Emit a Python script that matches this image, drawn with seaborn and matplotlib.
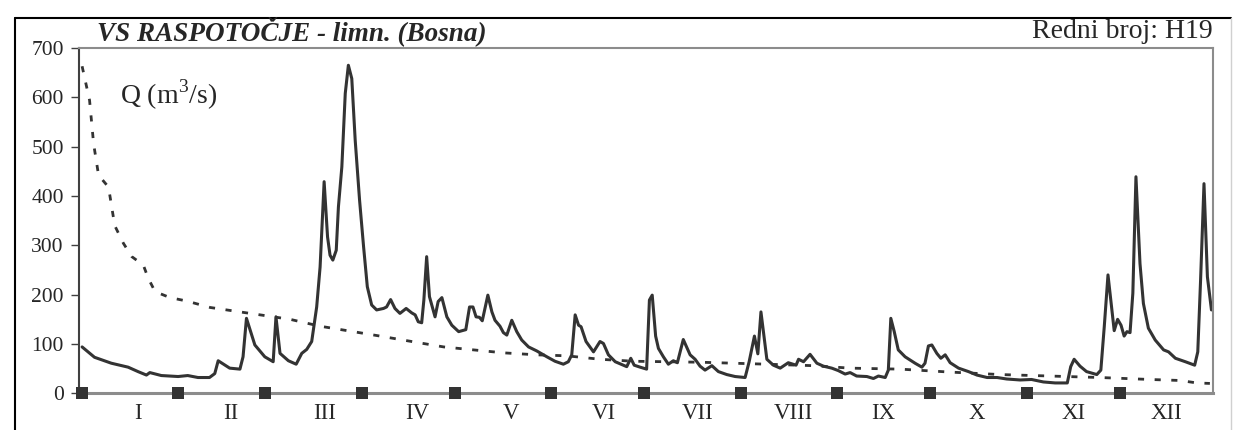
import matplotlib
matplotlib.use("Agg")
import matplotlib.pyplot as plt
from matplotlib.lines import Line2D
import seaborn as sns
import pandas as pd

# daily discharge (day of year from 0, Q in m3/s)
hydro_day = [0, 2.5, 4, 9.4, 14.8, 18, 20.7, 21.8, 25.5, 30.9, 34, 37.3, 41, 42.7, 43.8, 47.5,
             50.8, 51.8, 52.9, 55.6, 58.8, 61.5, 62.4, 63.7, 66.4, 68.9, 70.7, 72.3, 73.9, 75.5,
             76.6, 77.9, 79, 79.8, 80.7, 81.8, 82.5, 83.6, 84.7, 85.7, 86.8, 87.9, 89.3, 90.6,
             91.8, 93.2, 94.8, 97, 98, 99.3, 100.7, 102.3, 104.3, 106.1, 107.2, 108.2, 109.3,
             110, 110.9, 111.8, 113.6, 114.6, 115.8, 117.4, 119, 121.2, 123.5, 124.7, 125.8,
             126.8, 127.9, 128.8, 130.6, 131.9, 132.9, 134.5, 135.6, 136.7, 138.3, 139.9,
             141.5, 143.7, 146.3, 149.6, 152.2, 154.9, 156.5, 157.6, 158.7, 159.8, 160.6,
             162.2, 164.6, 166.7, 167.8, 169.4, 171.6, 175.3, 176.6, 177.7, 179.6, 181.7,
             182.6, 183.5, 184.6, 185.5, 187.1, 188.7, 190.3, 191.6, 193.5, 195.7, 197.3,
             198.9, 200.5, 202.7, 204.8, 207.5, 210.2, 213.4, 214.7, 216.4, 217.5, 218.5,
             220.4, 222.5, 224.7, 227.3, 229.8, 230.6, 232.2, 234.3, 236.5, 238.6, 241.3,
             243.4, 245.6, 247.2, 249.3, 252.6, 254.7, 256.3, 258.5, 259.5, 260.3, 261.4,
             262.7, 264.9, 268.1, 270.3, 271.3, 272.4, 273.5, 275.1, 276.4, 277.8, 279.4,
             282.1, 285.3, 288, 291.3, 294.5, 297.6, 301.9, 305.6, 309.4, 313.2, 317.1,
             318.2, 319.3, 321.2, 323.3, 326.6, 327.9, 329, 330.2, 332.2, 333.3, 334.4,
             335.4, 336.3, 337.3, 338.2, 339.2, 340.5, 341.6, 343.2, 345.4, 348.1, 349.7,
             351.9, 355.1, 358.1, 359.1, 360, 361.1, 362.2, 363.5]
hydro_q = [94, 81, 73, 61, 53, 44, 37, 42, 36, 34, 36, 32, 32, 40, 66, 51,
           49, 74, 152, 98, 74, 64, 155, 81, 66, 59, 81, 89, 105, 175,
           256, 429, 317, 280, 270, 290, 378, 459, 608, 665, 638, 513, 392, 297,
           216, 179, 169, 172, 175, 190, 172, 162, 172, 163, 159, 145, 143,
           189, 277, 196, 155, 186, 194, 155, 138, 125, 129, 175, 175,
           155, 154, 147, 199, 165, 148, 136, 123, 118, 148, 125,
           108, 94, 86, 74, 65, 59, 64, 78, 159, 138, 135,
           105, 84, 105, 101, 78, 64, 54, 71, 57, 53, 49,
           189, 199, 116, 91, 74, 59, 66, 62, 109, 78, 69,
           55, 47, 56, 44, 38, 34, 32, 64, 116, 80, 165,
           69, 57, 51, 62, 57, 69, 64, 79, 61, 55, 51,
           46, 39, 42, 35, 34, 30, 35, 32, 47, 152, 125,
           88, 74, 61, 53, 61, 96, 98, 81, 71, 78, 62,
           51, 44, 37, 32, 32, 29, 27, 28, 23, 21, 21,
           54, 69, 55, 44, 38, 47, 135, 240, 127, 150, 138,
           116, 125, 123, 203, 439, 263, 182, 132, 108, 88, 84,
           71, 64, 57, 84, 229, 425, 236, 169]

# duration curve (dotted)
dur_day = [0, 2.4, 3.7, 5.3, 8.5, 10.5, 13.3, 16, 19.7, 21.3, 23.5, 28.3, 33.7, 41.2, 51.9,
           57.3, 66.9, 76.6, 86.3, 95.9, 107, 116.4, 126, 135.7, 146.3, 156, 166.7, 177.4,
           188.1, 198.9, 209.6, 220.4, 235.4, 247.2, 263.3, 279.4, 295.5, 311.6, 327.7,
           343.8, 353.4, 358.8, 363]
dur_q = [663, 594, 506, 442, 418, 340, 304, 277, 260, 233, 206, 194, 187, 174, 164,
         159, 150, 136, 126, 116, 104, 94, 88, 82, 78, 76, 69, 65,
         64, 63, 61, 59, 56, 51, 49, 43, 38, 35, 32,
         28, 26, 21, 20]

month_start = [0, 31, 59, 90, 120, 151, 181, 212, 243, 273, 304, 334]
month_names = ['I', 'II', 'III', 'IV', 'V', 'VI', 'VII', 'VIII', 'IX', 'X', 'XI', 'XII']
month_label_day = [18, 48, 78, 108, 138, 168, 198, 229, 258, 288, 319, 349]

sns.set_style('white')
plt.rcParams['font.family'] = ['Liberation Serif', 'DejaVu Serif']

W, H = 1234, 430
fig = plt.figure(figsize=(W / 100, H / 100), dpi=100)
ax = fig.add_axes([79 / W, 1 - 393.3 / H, (1213 - 79) / W, (393.3 - 48) / H])

hydro = pd.DataFrame({'dan': hydro_day, 'Q': hydro_q})
dur = pd.DataFrame({'dan': dur_day, 'Q': dur_q})
marks = pd.DataFrame({'dan': month_start, 'Q': [0] * len(month_start)})

line_col = '#333333'
sns.lineplot(data=dur, x='dan', y='Q', color=line_col, lw=2, linestyle=(0, (2.2, 3.8)), ax=ax)
sns.lineplot(data=hydro, x='dan', y='Q', color=line_col, lw=2.2, ax=ax)
sns.scatterplot(data=marks, x='dan', y='Q', marker='s', s=75, color=line_col,
                edgecolor='none', clip_on=False, zorder=6, ax=ax)

ax.set_xlim(-1, 364)
ax.set_ylim(0, 700)
ax.set_xlabel('')
ax.set_ylabel('')

ax.set_yticks(range(0, 701, 100))
ax.tick_params(axis='y', direction='out', length=6, width=1, color='#404040',
               labelsize=15.5, pad=5, left=True)
ax.set_xticks(month_start)
ax.set_xticklabels([])
ax.set_xticks(month_label_day, minor=True)
ax.set_xticklabels(month_names, minor=True)
ax.tick_params(axis='x', which='both', length=0, labelsize=16.5, pad=7)

for side in ['top', 'right']:
    ax.spines[side].set_color('#8c8c8c')
    ax.spines[side].set_linewidth(1.5)
ax.spines['bottom'].set_color('#8c8c8c')
ax.spines['bottom'].set_linewidth(2.2)
ax.spines['left'].set_color('#404040')
ax.spines['left'].set_linewidth(1.5)

fig.text(97 / W, 1 - 31 / H, 'VS RASPOTOČJE - limn. (Bosna)', fontsize=19.5,
         fontweight='bold', style='italic', va='center', ha='left')
fig.text(1213 / W, 1 - 32 / H, 'Redni broj: H19', fontsize=20, va='center', ha='right')
fig.text(120 / W, 1 - 95 / H, r'Q (m$^\mathregular{3}$/s)', fontsize=20, va='center', ha='left')

# outer chart frame
fig.add_artist(Line2D([15 / W, 15 / W], [0, 1 - 18 / H], transform=fig.transFigure,
                      color='black', lw=1.5))
fig.add_artist(Line2D([15 / W, 1231 / W], [1 - 18 / H, 1 - 18 / H], transform=fig.transFigure,
                      color='black', lw=1.5))
fig.add_artist(Line2D([1231 / W, 1231 / W], [0, 1 - 18 / H], transform=fig.transFigure,
                      color='#d0d0d0', lw=1))

fig.savefig('out.png', dpi=100)
